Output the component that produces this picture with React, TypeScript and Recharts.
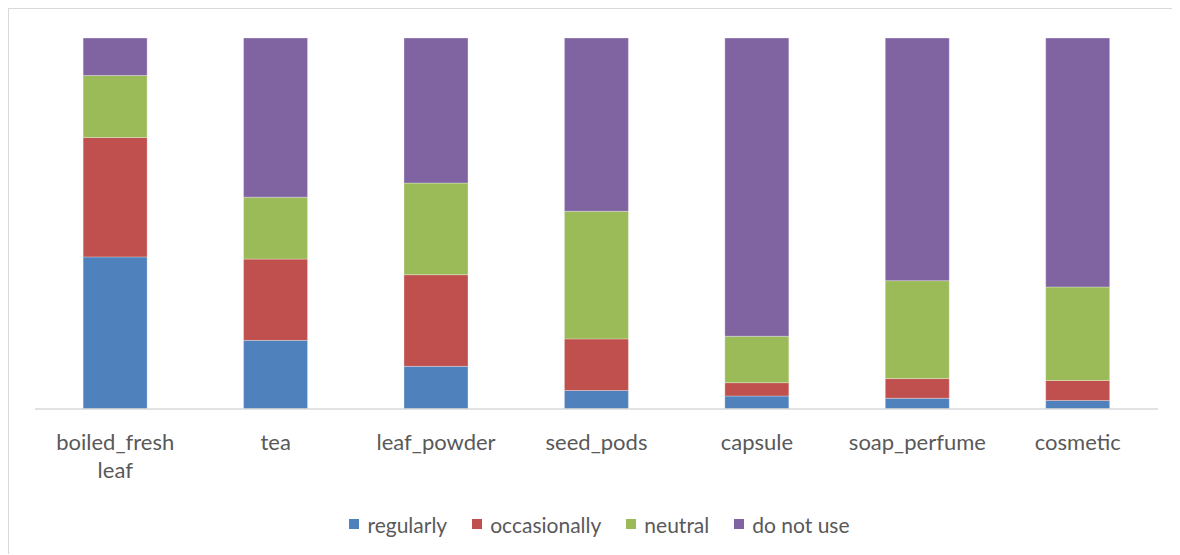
import React from 'react';
import { BarChart, Bar, XAxis, YAxis, Legend } from 'recharts';

// percentages (each column sums to ~100)
const categories = ['boiled_fresh leaf', 'tea', 'leaf_powder', 'seed_pods', 'capsule', 'soap_perfume', 'cosmetic'];
const regularly = [41.0, 18.5, 11.5, 5.0, 3.5, 2.9, 2.3];
const occasionally = [32.2, 21.9, 24.7, 13.9, 3.6, 5.3, 5.4];
const neutral = [16.7, 16.7, 24.7, 34.4, 12.5, 26.4, 25.2];
const doNotUse = [10.1, 42.9, 39.1, 46.7, 80.4, 65.4, 67.1];

const seriesNames = ['regularly', 'occasionally', 'neutral', 'do not use'];
const seriesKeys = ['regularly', 'occasionally', 'neutral', 'doNotUse'];
const colors = ['#4F81BD', '#C0504D', '#9BBB59', '#8064A2'];

const data = categories.map((name, i) => ({
  name,
  regularly: regularly[i],
  occasionally: occasionally[i],
  neutral: neutral[i],
  doNotUse: doNotUse[i],
}));

const FONT = 'Lato, "Open Sans", sans-serif';

const CategoryTick = (props: any) => {
  const { x, y, payload } = props;
  const words = String(payload.value).split(' ');
  return (
    <g transform={`translate(${x},${y})`}>
      <text textAnchor="middle" fill="#595959" fontSize={22} fontFamily={FONT}>
        {words.map((w, i) => (
          <tspan key={i} x={0} y={33 + i * 28}>{w}</tspan>
        ))}
      </text>
    </g>
  );
};

const LegendContent = () => (
  <div style={{ display: 'flex', justifyContent: 'center', alignItems: 'center', fontFamily: FONT, fontSize: 21, color: '#595959', height: 40, paddingLeft: 6 }}>
    {seriesNames.map((n, i) => (
      <div key={n} style={{ display: 'flex', alignItems: 'center', marginRight: i < seriesNames.length - 1 ? 25 : 0 }}>
        <span style={{ width: 10, height: 10, background: colors[i], display: 'inline-block', marginRight: 8 }} />
        <span>{n}</span>
      </div>
    ))}
  </div>
);

export default function App() {
  return (
    <div style={{ position: 'relative', width: 1172, height: 547, overflow: 'hidden', marginLeft: -1, marginTop: -1 }}>
      <div style={{ position: 'absolute', left: 0, top: 0, width: 2, height: 547, background: '#D9D9D9' }} />
      <div style={{ position: 'absolute', left: 0, top: 0, width: 1172, height: 2, background: '#D9D9D9' }} />
      <div style={{ position: 'absolute', left: 1, top: 2 }}>
        <BarChart
          width={1168}
          height={543}
          data={data}
          stackOffset="expand"
          barCategoryGap="30%"
          margin={{ top: 29, right: 18, left: 27, bottom: 8 }}
        >
          <XAxis
            dataKey="name"
            axisLine={{ stroke: '#D9D9D9', strokeWidth: 1.5 }}
            tickLine={false}
            interval={0}
            height={95}
            tick={<CategoryTick />}
          />
          <YAxis hide domain={[0, 1]} />
          <Legend verticalAlign="bottom" height={40} content={<LegendContent />} />
          {seriesKeys.map((k, i) => (
            <Bar
              key={k}
              dataKey={k}
              name={seriesNames[i]}
              stackId="a"
              fill={colors[i]}
              stroke="#ffffff"
              strokeOpacity={0.4}
              strokeWidth={0.75}
              isAnimationActive={false}
            />
          ))}
        </BarChart>
      </div>
    </div>
  );
}
